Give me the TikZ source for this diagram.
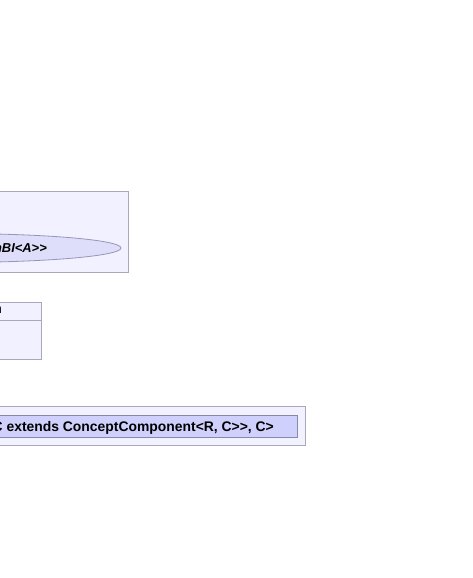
\documentclass[tikz,border=0pt]{standalone}
\usepackage{fontspec}
\setmainfont{Liberation Sans}[Ligatures=TeXOff]
\definecolor{boxFill}{RGB}{241,241,255}
\definecolor{boxLine}{RGB}{168,168,188}
\definecolor{caseFill}{RGB}{222,222,250}
\definecolor{caseLine}{RGB}{150,150,185}
\definecolor{paramFill}{RGB}{208,208,252}
\definecolor{paramLine}{RGB}{136,136,170}
\begin{document}
\begin{tikzpicture} [x=1pt,y=-1pt,
	frame/.style={draw=boxLine,fill=boxFill,line width=0.9pt},
	usecase/.style={draw=caseLine,fill=caseFill,line width=0.8pt},
	param/.style={draw=paramLine,fill=paramFill,line width=0.9pt},
	label/.style={inner sep=0pt,font=\bfseries\fontsize{13.9}{16}\selectfont}]
	\useasboundingbox (0,0) rectangle (472,578);

	\draw[frame] (-200,191) rectangle (128,272);
	\draw[usecase] (-49,248) ellipse [x radius=170pt, y radius=14.5pt];
	\node (caseText) at (47,252)[label,anchor=base east,font=\bfseries\itshape\fontsize{12.9}{15}\selectfont] {nBI<A>>};

	\draw[frame] (-100,302) rectangle (41,359);
	\draw[draw=boxLine,line width=0.9pt] (-100,320) -- (41,320);
	\node (classText) at (2,313)[label,anchor=base east] {n};

	\draw[frame] (-300,406) rectangle (305,445);
	\draw[param] (-300,415.5) rectangle (297.5,437);
	\node (paramText) at (274,431)[label,anchor=base east] {C extends ConceptComponent<R, C>>, C>};
\end{tikzpicture}
\end{document}
